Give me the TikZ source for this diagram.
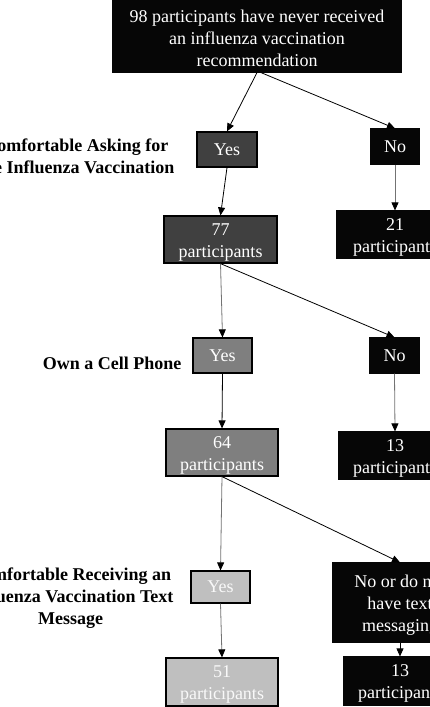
\documentclass[tikz,border=0pt]{standalone}
\usepackage{fontspec}
\setmainfont{Liberation Serif}
\usetikzlibrary{arrows.meta}
\definecolor{nearblack}{HTML}{060606}
\definecolor{darkgrey}{HTML}{404040}
\definecolor{midgrey}{HTML}{7F7F7F}
\definecolor{lightgrey}{HTML}{BFBFBF}
\newcommand{\firstline}{\rule{0pt}{17pt}}
\begin{document}
\begin{tikzpicture}[x=1pt, y=-1pt,
        box/.style={inner sep=0pt, align=center, text=white, line width=1.2pt, font=\fontsize{18}{22}\selectfont},
        blackbox/.style={box, fill=nearblack, draw=nearblack},
        darkbox/.style={box, fill=darkgrey, draw=black},
        midbox/.style={box, fill=midgrey, draw=black},
        lightbox/.style={box, fill=lightgrey, draw=black, text=white!90!lightgrey},
        question/.style={anchor=east, align=center, font=\bfseries\fontsize{18}{22}\selectfont},
        arr/.style={-{Triangle[length=8pt, width=7pt, color=black]}, line width=0.8pt, draw=black},
        arrgrey/.style={arr, draw=black!55}]
    \useasboundingbox (0,0) rectangle (430,707);
    \clip (0,0) rectangle (430,707);
    \fill[white] (0,0) rectangle (430,707);

    \node[blackbox, minimum width=288, minimum height=72] (start) at (257,36) {\firstline 98 participants have never received\\an influenza vaccination\\recommendation};

    \node[question] (askq) at (178,156) {Comfortable Asking for\\the Influenza Vaccination};
    \node[darkbox, minimum width=60, minimum height=35] (askyes) at (227,149.5) {Yes};
    \node[blackbox, minimum width=48, minimum height=35] (askno) at (395,146.5) {No};
    \node[darkbox, minimum width=113, minimum height=47] (p77) at (220.5,239.5) {\firstline 77\\participants};
    \node[blackbox, minimum width=116, minimum height=47] (p21) at (395,234.5) {\firstline 21\\participants};

    \node[question] (phoneq) at (185,363) {Own a Cell Phone};
    \node[midbox, minimum width=59, minimum height=35] (phoneyes) at (222.5,355.5) {Yes};
    \node[blackbox, minimum width=49, minimum height=35] (phoneno) at (394.5,355.5) {No};
    \node[midbox, minimum width=112, minimum height=47] (p64) at (222,452.5) {\firstline 64\\participants};
    \node[blackbox, minimum width=112, minimum height=47] (p13a) at (395,455.5) {\firstline 13\\participants};

    \node[question] (textq) at (177,598) {Comfortable Receiving an\\Influenza Vaccination Text\\Message};
    \node[lightbox, minimum width=59, minimum height=32] (textyes) at (220.5,587) {Yes};
    \node[blackbox, minimum width=134, minimum height=79] (textno) at (400,602.5) {\firstline No or do not\\have text\\messaging};
    \node[lightbox, minimum width=112, minimum height=48] (p51) at (222,682) {\firstline 51\\participants};
    \node[blackbox, minimum width=112, minimum height=48] (p13b) at (400,681) {\firstline 13\\participants};

    \draw[arr] (start.south) -- (askyes.north);
    \draw[arr] ([xshift=4]start.south) -- (askno.north);
    \draw[arr] (askyes.south) -- (p77.north);
    \draw[arrgrey] (askno.south) -- (p21.north);
    \draw[arrgrey] (p77.south) -- (phoneyes.north);
    \draw[arr] (p77.south) -- (phoneno.north);
    \draw[arr] (phoneyes.south) -- (p64.north);
    \draw[arrgrey] (phoneno.south) -- (p13a.north);
    \draw[arrgrey] (p64.south) -- (textyes.north);
    \draw[arr] (p64.south) -- (textno.north);
    \draw[arrgrey] (textyes.south) -- (p51.north);
    \draw[arr] (textno.south) -- (p13b.north);
\end{tikzpicture}
\end{document}
